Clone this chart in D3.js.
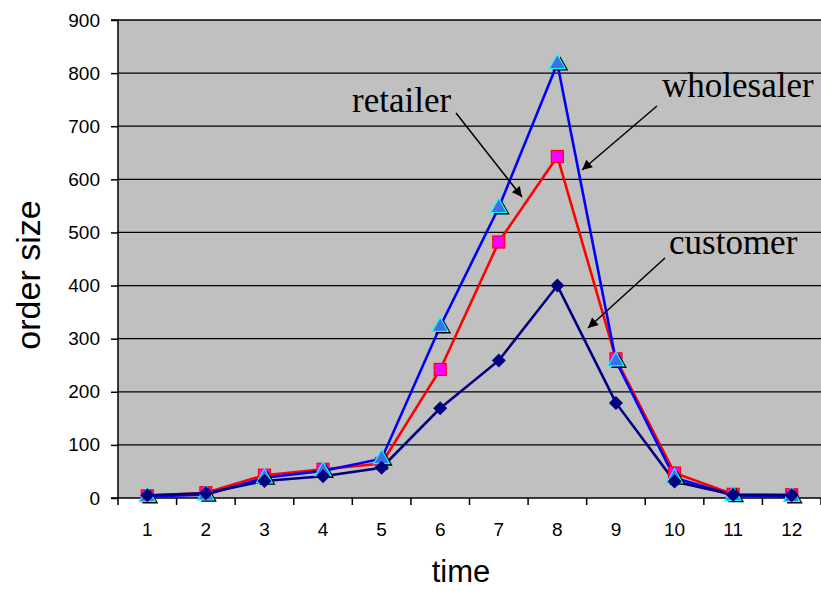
<!DOCTYPE html>
<html><head><meta charset="utf-8">
<script src="https://cdn.jsdelivr.net/npm/d3@7"></script>
<style>body{margin:0;background:#fff}</style>
</head><body>
<svg id="c" width="821" height="593"></svg>
<script>
const times = [1,2,3,4,5,6,7,8,9,10,11,12];
const customer   = [5, 9, 32, 41, 57, 169, 259, 400, 179, 31, 6, 5];
const retailer   = [4, 10, 43, 54, 65, 242, 482, 643, 262, 47, 7, 6];
const wholesaler = [3, 6, 38, 51, 74, 323, 547, 818, 258, 38, 5, 3];
const yTicks = [0,100,200,300,400,500,600,700,800,900];
const labels = [
  {text:"retailer", tx:352, ty:112, x1:456, y1:113, x2:522, y2:197},
  {text:"wholesaler", tx:662, ty:97, x1:657, y1:106, x2:582, y2:170},
  {text:"customer", tx:669, ty:254, x1:665, y1:258, x2:588, y2:328}
];

const svg = d3.select("#c");
const L=118, R=821, T=20, B=498;
const x = d3.scaleBand().domain(times).range([L,R]);
const y = d3.scaleLinear().domain([0,900]).range([B,T]);

svg.append("rect").attr("x",L).attr("y",T).attr("width",R-L).attr("height",B-T).attr("fill","#c0c0c0");
svg.append("g").selectAll("line").data(yTicks.filter(d=>d>0)).join("line")
  .attr("x1",L).attr("x2",R).attr("y1",d=>y(d)).attr("y2",d=>y(d))
  .attr("stroke","#000").attr("stroke-width",1.3);

const ya = svg.append("g").attr("transform",`translate(${L},0)`)
  .call(d3.axisLeft(y).tickValues(yTicks).tickSize(7).tickPadding(11));
ya.select(".domain").attr("stroke","#000").attr("stroke-width",1.5).attr("d",`M-7,${T}H0V${B}H-7`);
ya.selectAll("text").attr("font-family","Liberation Sans, Arial").attr("font-size",19).attr("fill","#000");
ya.selectAll("line").attr("stroke-width",1.5);

const xa = svg.append("g").attr("transform",`translate(0,${B})`)
  .call(d3.axisBottom(x).tickSize(0).tickPadding(25));
xa.select(".domain").attr("stroke","#000").attr("stroke-width",1.5).attr("d",`M${L},0H${R}`);
xa.selectAll("text").attr("font-family","Liberation Sans, Arial").attr("font-size",19).attr("fill","#000");
const bounds = times.map(t=>x(t)).concat([R]);
svg.append("g").selectAll("line").data(bounds).join("line")
  .attr("x1",d=>d).attr("x2",d=>d).attr("y1",B).attr("y2",B+7).attr("stroke","#000").attr("stroke-width",1.5);

svg.append("text").attr("x",461).attr("y",582).attr("text-anchor","middle")
  .attr("font-family","Liberation Sans, Arial").attr("font-size",31).text("time");
svg.append("text").attr("transform",`translate(40,275) rotate(-90)`).attr("text-anchor","middle")
  .attr("font-family","Liberation Sans, Arial").attr("font-size",34).text("order size");

const cx = t => x(t)+x.bandwidth()/2;
const line = vals => d3.line().x((d,i)=>cx(times[i])).y(d=>y(d))(vals);
svg.append("path").attr("d",line(retailer)).attr("fill","none").attr("stroke","#ff0000").attr("stroke-width",2.6);
svg.append("path").attr("d",line(wholesaler)).attr("fill","none").attr("stroke","#0000ff").attr("stroke-width",2.6);
svg.append("path").attr("d",line(customer)).attr("fill","none").attr("stroke","#000080").attr("stroke-width",2.6);

// retailer squares
svg.append("g").selectAll("rect").data(retailer).join("rect")
  .attr("x",(d,i)=>cx(times[i])-6).attr("y",d=>y(d)-6).attr("width",12).attr("height",12)
  .attr("fill","#ff00ff").attr("stroke","#ff0000").attr("stroke-width",1.2);
// wholesaler triangles
const tri = "M0,-9L8,5L-8,5Z";
svg.append("g").selectAll("path.s").data(wholesaler).join("path")
  .attr("d",tri).attr("transform",(d,i)=>`translate(${cx(times[i])+3},${y(d)+2})`).attr("fill","#000");
svg.append("g").selectAll("path.t").data(wholesaler).join("path")
  .attr("d",tri).attr("transform",(d,i)=>`translate(${cx(times[i])},${y(d)})`)
  .attr("fill","#3f6fe8").attr("stroke","#00ffff").attr("stroke-width",1.2);
// customer diamonds
svg.append("g").selectAll("path.d").data(customer).join("path")
  .attr("d","M0,-7L7,0L0,7L-7,0Z").attr("transform",(d,i)=>`translate(${cx(times[i])},${y(d)})`)
  .attr("fill","#000080");

// annotations
svg.append("defs").append("marker").attr("id","ah").attr("viewBox","0 0 10 10").attr("refX",10).attr("refY",5)
  .attr("markerWidth",14).attr("markerHeight",10).attr("markerUnits","userSpaceOnUse").attr("orient","auto")
  .append("path").attr("d","M0,0L10,5L0,10Z").attr("fill","#000");
const g = svg.append("g");
labels.forEach(l=>{
  g.append("text").attr("x",l.tx).attr("y",l.ty).attr("font-family","Liberation Serif, Times New Roman")
    .attr("font-size",35).attr("fill","#000").text(l.text);
  g.append("line").attr("x1",l.x1).attr("y1",l.y1).attr("x2",l.x2).attr("y2",l.y2)
    .attr("stroke","#000").attr("stroke-width",1.5).attr("marker-end","url(#ah)");
});
</script>
</body></html>
